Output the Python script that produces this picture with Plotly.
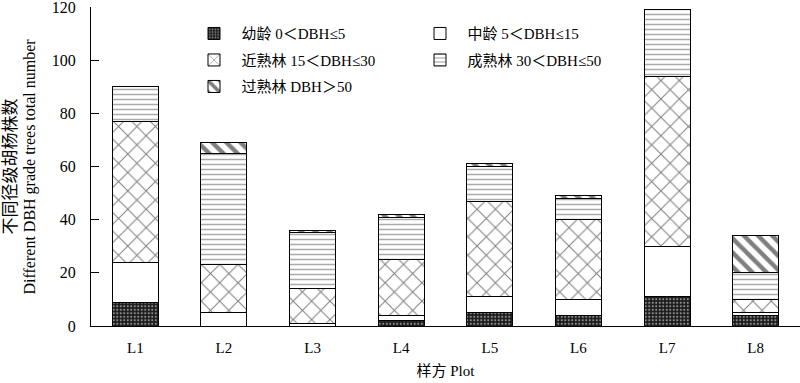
import plotly.graph_objects as go

plots = ["L1", "L2", "L3", "L4", "L5", "L6", "L7", "L8"]
young = [9, 0, 0, 2, 5, 4, 11, 4]
middle = [15, 5, 1, 2, 6, 6, 19, 1]
near_mature = [53, 18, 13, 21, 36, 30, 64, 5]
mature = [13, 42, 21, 16, 13, 8, 25, 10]
over_mature = [0, 4, 1, 1, 1, 1, 0, 14]

names = ["幼龄 0＜DBH≤5", "中龄 5＜DBH≤15", "近熟林 15＜DBH≤30",
         "成熟林 30＜DBH≤50", "过熟林 DBH＞50"]
legend_ids = ["legend", "legend2", "legend", "legend2", "legend"]
series = [young, middle, near_mature, mature, over_mature]
patterns = [
    dict(shape=".", fgcolor="#ffffff", bgcolor="#1a1a1a", size=3.5, solidity=0.3),
    dict(shape="", bgcolor="#ffffff"),
    dict(shape="x", fgcolor="#000000", bgcolor="#ffffff", size=13, solidity=0.15),
    dict(shape="-", fgcolor="#555555", bgcolor="#ffffff", size=5, solidity=0.3),
    dict(shape="\\", fgcolor="#000000", bgcolor="#ffffff", size=10, solidity=0.45),
]

SERIF = "Liberation Serif, Times New Roman, Noto Sans CJK SC, serif"
PAD = "\u00a0\u00a0"

fig = go.Figure()
for i, (name, vals, pat, lg) in enumerate(zip(names, series, patterns, legend_ids)):
    fig.add_trace(go.Bar(
        x=plots, y=vals, name=PAD + name, width=0.52,
        legend=lg, legendgroup="g%d" % i,
        marker=dict(color="#ffffff", line=dict(color="#000000", width=1), pattern=pat),
    ))

legend_common = dict(
    orientation="v", xanchor="left", y=0.968, yanchor="top",
    traceorder="grouped", tracegroupgap=4,
    font=dict(family=SERIF, size=15), bgcolor="rgba(0,0,0,0)",
    itemwidth=30,
)

fig.update_layout(
    width=800, height=383,
    barmode="stack",
    paper_bgcolor="#ffffff", plot_bgcolor="#ffffff",
    margin=dict(l=91, r=0, t=7, b=57),
    font=dict(family=SERIF, size=15, color="#000000"),
    showlegend=True,
    legend=dict(x=(194 - 91) / 709, **legend_common),
    legend2=dict(x=(420 - 91) / 709, **legend_common),
    xaxis=dict(
        showline=True, linecolor="#000000", linewidth=1, automargin=False,
        ticks="", showgrid=False, range=[-0.5, 7.5],
        ticklabelstandoff=8,
        title=dict(text="样方 Plot", font=dict(family=SERIF, size=15), standoff=10),
        tickfont=dict(family=SERIF, size=15),
    ),
    yaxis=dict(
        range=[0, 120], tickvals=[0, 20, 40, 60, 80, 100, 120],
        showline=True, linecolor="#000000", linewidth=1, automargin=False,
        ticks="inside", ticklen=8, tickcolor="#000000",
        ticklabelstandoff=11, ticklabeloverflow="allow",
        showgrid=False, zeroline=False,
        tickfont=dict(family=SERIF, size=16),
    ),
)

fig.add_annotation(
    text="不同径级胡杨株数", textangle=-90, xref="paper", yref="paper",
    x=(10 - 91) / 709, y=0.5, xanchor="center", yanchor="middle",
    showarrow=False, font=dict(family=SERIF, size=17),
)
fig.add_annotation(
    text="Different DBH grade trees total number", textangle=-90, xref="paper", yref="paper",
    x=(29 - 91) / 709, y=0.5, xanchor="center", yanchor="middle",
    showarrow=False, font=dict(family=SERIF, size=16),
)

fig.write_html(
    "out.html",
    config={"displayModeBar": False},
    post_script="document.body.style.margin='0';document.body.style.padding='0';",
)
